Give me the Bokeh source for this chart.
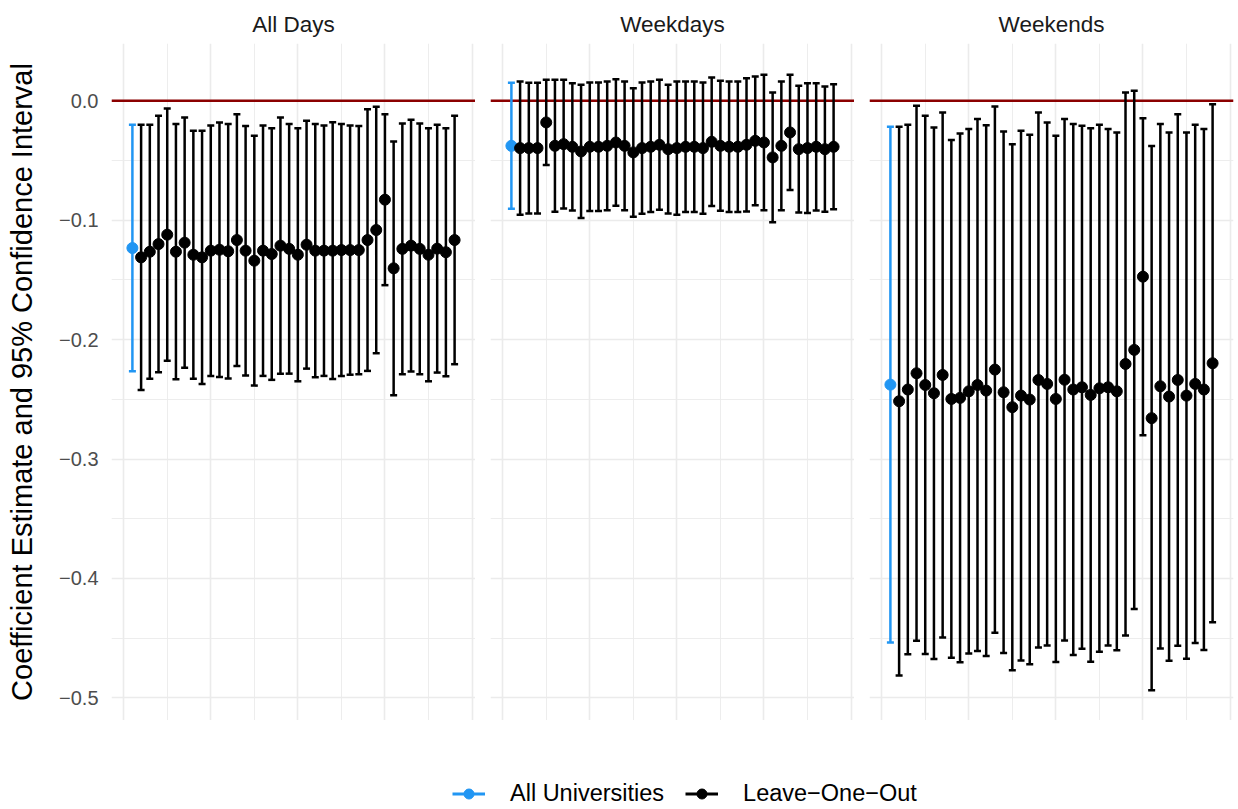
from bokeh.plotting import figure
from bokeh.models import (ColumnDataSource, FixedTicker, Range1d, Span, Legend,
                          LegendItem, Whisker, TeeHead)
from bokeh.layouts import row, column
from bokeh.embed import file_html
from bokeh.resources import INLINE

# ---------------------------------------------------------------- data
panel_titles = ["All Days", "Weekdays", "Weekends"]
positions = list(range(1, 39))          # 1 = all universities, 2..38 = leave-one-out fits
group_names = ["All Universities", "Leave−One−Out"]

all_days_est = [-0.1233, -0.1311, -0.1264, -0.1200, -0.1121, -0.1264, -0.1188, -0.1289,
                -0.1311, -0.1255, -0.1247, -0.1260, -0.1166, -0.1255, -0.1339, -0.1255,
                -0.1283, -0.1213, -0.1240, -0.1289, -0.1205, -0.1255, -0.1255, -0.1255,
                -0.1250, -0.1250, -0.1250, -0.1166, -0.1082, -0.0828, -0.1403, -0.1240,
                -0.1213, -0.1240, -0.1289, -0.1238, -0.1268, -0.1166]
all_days_hi = [-0.0201, -0.0200, -0.0200, -0.0126, -0.0064, -0.0195, -0.0140, -0.0251,
               -0.0251, -0.0206, -0.0181, -0.0195, -0.0112, -0.0210, -0.0293, -0.0206,
               -0.0229, -0.0140, -0.0195, -0.0229, -0.0167, -0.0195, -0.0206, -0.0180,
               -0.0195, -0.0206, -0.0210, -0.0070, -0.0050, -0.0112, -0.0340, -0.0190,
               -0.0159, -0.0190, -0.0229, -0.0200, -0.0229, -0.0126]
all_days_lo = [-0.2265, -0.2422, -0.2328, -0.2274, -0.2178, -0.2333, -0.2236, -0.2327,
               -0.2371, -0.2304, -0.2313, -0.2325, -0.2220, -0.2300, -0.2385, -0.2304,
               -0.2337, -0.2286, -0.2285, -0.2349, -0.2243, -0.2315, -0.2304, -0.2330,
               -0.2305, -0.2294, -0.2290, -0.2262, -0.2114, -0.1544, -0.2466, -0.2290,
               -0.2267, -0.2290, -0.2349, -0.2276, -0.2307, -0.2206]

weekdays_est = [-0.0377, -0.0396, -0.0396, -0.0396, -0.0181, -0.0377, -0.0363, -0.0385,
                -0.0424, -0.0385, -0.0385, -0.0377, -0.0349, -0.0377, -0.0432, -0.0396,
                -0.0385, -0.0368, -0.0405, -0.0396, -0.0385, -0.0385, -0.0396, -0.0343,
                -0.0377, -0.0385, -0.0385, -0.0368, -0.0335, -0.0349, -0.0474, -0.0377,
                -0.0265, -0.0405, -0.0396, -0.0385, -0.0405, -0.0385]
weekdays_hi = [0.0151, 0.0162, 0.0151, 0.0151, 0.0176, 0.0176, 0.0176, 0.0148,
               0.0134, 0.0153, 0.0153, 0.0162, 0.0181, 0.0162, 0.0106, 0.0153,
               0.0162, 0.0176, 0.0134, 0.0162, 0.0162, 0.0162, 0.0153, 0.0195,
               0.0167, 0.0162, 0.0162, 0.0190, 0.0204, 0.0218, 0.0070, 0.0162,
               0.0218, 0.0126, 0.0148, 0.0148, 0.0120, 0.0139]
weekdays_lo = [-0.0905, -0.0954, -0.0943, -0.0943, -0.0538, -0.0930, -0.0902, -0.0918,
               -0.0982, -0.0923, -0.0923, -0.0916, -0.0879, -0.0916, -0.0970, -0.0945,
               -0.0932, -0.0912, -0.0944, -0.0954, -0.0932, -0.0932, -0.0945, -0.0881,
               -0.0921, -0.0932, -0.0932, -0.0926, -0.0874, -0.0916, -0.1018, -0.0916,
               -0.0748, -0.0936, -0.0940, -0.0918, -0.0930, -0.0909]

weekends_est = [-0.2377, -0.2516, -0.2418, -0.2282, -0.2380, -0.2449, -0.2296, -0.2497,
                -0.2488, -0.2433, -0.2380, -0.2427, -0.2251, -0.2441, -0.2566, -0.2469,
                -0.2502, -0.2338, -0.2371, -0.2497, -0.2336, -0.2418, -0.2399, -0.2463,
                -0.2408, -0.2399, -0.2433, -0.2204, -0.2086, -0.1473, -0.2658, -0.2391,
                -0.2477, -0.2338, -0.2469, -0.2371, -0.2418, -0.2198]
weekends_hi = [-0.0218, -0.0218, -0.0201, -0.0042, -0.0126, -0.0223, -0.0098, -0.0329,
               -0.0273, -0.0237, -0.0153, -0.0204, -0.0047, -0.0257, -0.0363, -0.0251,
               -0.0285, -0.0098, -0.0181, -0.0293, -0.0153, -0.0195, -0.0209, -0.0229,
               -0.0201, -0.0237, -0.0265, 0.0070, 0.0084, -0.0145, -0.0379, -0.0195,
               -0.0265, -0.0112, -0.0265, -0.0201, -0.0237, -0.0028]
weekends_lo = [-0.4536, -0.4814, -0.4635, -0.4522, -0.4634, -0.4675, -0.4494, -0.4665,
               -0.4703, -0.4629, -0.4607, -0.4650, -0.4455, -0.4625, -0.4769, -0.4687,
               -0.4719, -0.4578, -0.4561, -0.4701, -0.4519, -0.4641, -0.4589, -0.4697,
               -0.4615, -0.4561, -0.4601, -0.4478, -0.4256, -0.2801, -0.4937, -0.4587,
               -0.4689, -0.4564, -0.4673, -0.4541, -0.4599, -0.4368]

y_ticks = [0.0, -0.1, -0.2, -0.3, -0.4, -0.5]
y_tick_labels = ["0.0", "−0.1", "−0.2", "−0.3", "−0.4", "−0.5"]
y_minor_ticks = [-0.05, -0.15, -0.25, -0.35, -0.45]
x_ticks = [0, 10, 20, 30, 40]
x_minor_ticks = [5, 15, 25, 35]

# ---------------------------------------------------------------- style
FONT = "Liberation Sans"
BLUE = "#2196F3"
BLACK = "#000000"
DARKRED = "#8B0000"
GRID = "#EBEBEB"
colors = [BLUE, BLACK]

y_range = Range1d(-0.519, 0.048)

panel_data = [
    (all_days_est, all_days_lo, all_days_hi),
    (weekdays_est, weekdays_lo, weekdays_hi),
    (weekends_est, weekends_lo, weekends_hi),
]


def group_sources(est, lo, hi):
    groups = [group_names[0]] + [group_names[1]] * (len(positions) - 1)
    out = []
    for gname in group_names:
        sel = [i for i, g in enumerate(groups) if g == gname]
        out.append(ColumnDataSource(dict(
            x=[positions[i] for i in sel],
            est=[est[i] for i in sel],
            lo=[lo[i] for i in sel],
            hi=[hi[i] for i in sel],
        )))
    return out


def make_panel(idx, title, sources):
    first = idx == 0
    last = idx == 2
    p = figure(
        frame_width=364, frame_height=677,
        x_range=Range1d(-1.4, 40.4), y_range=y_range,
        x_axis_location=None, y_axis_location="left" if first else None,
        output_backend="svg", toolbar_location=None,
        min_border_left=111 if first else 15,
        min_border_right=4 if last else 0,
        min_border_top=43, min_border_bottom=0,
        background_fill_color="white", border_fill_color="white",
    )
    p.outline_line_color = None

    # facet strip title
    p.title.text = title
    p.title.align = "center"
    p.title.text_font = FONT
    p.title.text_font_size = "22.5px"
    p.title.text_font_style = "normal"
    p.title.text_color = "#1A1A1A"
    p.title.standoff = 14

    # grid
    p.xgrid.ticker = FixedTicker(ticks=x_ticks, minor_ticks=x_minor_ticks)
    p.ygrid.ticker = FixedTicker(ticks=y_ticks, minor_ticks=y_minor_ticks)
    for g in (p.xgrid, p.ygrid):
        g.grid_line_color = GRID
        g.grid_line_width = 1.6
        g.minor_grid_line_color = GRID
        g.minor_grid_line_width = 0.9

    if first:
        ax = p.yaxis[0]
        ax.ticker = FixedTicker(ticks=y_ticks, minor_ticks=[])
        ax.major_label_overrides = {t: s for t, s in zip(y_ticks, y_tick_labels)}
        ax.axis_line_color = None
        ax.major_tick_line_color = None
        ax.minor_tick_line_color = None
        ax.major_tick_out = 0
        ax.major_tick_in = 0
        ax.major_label_standoff = 13
        ax.major_label_text_font = FONT
        ax.major_label_text_font_size = "20px"
        ax.major_label_text_color = "#4D4D4D"
        ax.axis_label = "Coefficient Estimate and 95% Confidence Interval"
        ax.axis_label_text_font = FONT
        ax.axis_label_text_font_size = "29px"
        ax.axis_label_text_font_style = "normal"
        ax.axis_label_text_color = "#000000"
        ax.axis_label_standoff = 18

    # reference line at zero
    p.add_layout(Span(location=0, dimension="width", line_color=DARKRED,
                      line_width=2.6, level="underlay"))

    for src, col in zip(sources, colors):
        p.add_layout(Whisker(
            source=src, base="x", lower="lo", upper="hi", dimension="height",
            line_color=col, line_width=2.5, level="underlay",
            lower_head=TeeHead(size=7, line_color=col, line_width=2.5),
            upper_head=TeeHead(size=7, line_color=col, line_width=2.5),
        ))
        p.scatter("x", "est", source=src, size=11, color=col)
    return p


all_sources = [group_sources(*d) for d in panel_data]
panels = [make_panel(i, t, s) for i, (t, s) in enumerate(zip(panel_titles, all_sources))]

# ---------------------------------------------------------------- legend strip
# The key reuses the "All Days" series; its ranges keep those marks out of view,
# so only the legend entries show.
leg = figure(width=1238, height=89, x_axis_type=None, y_axis_type=None,
             x_range=Range1d(100, 101), y_range=Range1d(100, 101),
             output_backend="svg", toolbar_location=None,
             min_border=0, background_fill_color="white", border_fill_color="white")
leg.outline_line_color = None
leg.xgrid.visible = False
leg.ygrid.visible = False
items = []
for gname, col, src in zip(group_names, colors, all_sources[0]):
    r_line = leg.segment(x0="x", y0="lo", x1="x", y1="hi", source=src,
                         line_color=col, line_width=2.8)
    r_dot = leg.scatter("x", "est", source=src, color=col)
    items.append(LegendItem(label=gname, renderers=[r_line, r_dot], index=0))
legend = Legend(items=items, orientation="horizontal", location=(452, 2),
                glyph_width=33, glyph_height=25, label_standoff=25, spacing=21,
                padding=0, margin=0, border_line_color=None, background_fill_alpha=0,
                label_text_font=FONT, label_text_font_size="23.5px",
                label_text_color="#000000")
leg.add_layout(legend)

layout = column(row(*panels), leg)
open("out.html", "w").write(file_html(layout, INLINE))
